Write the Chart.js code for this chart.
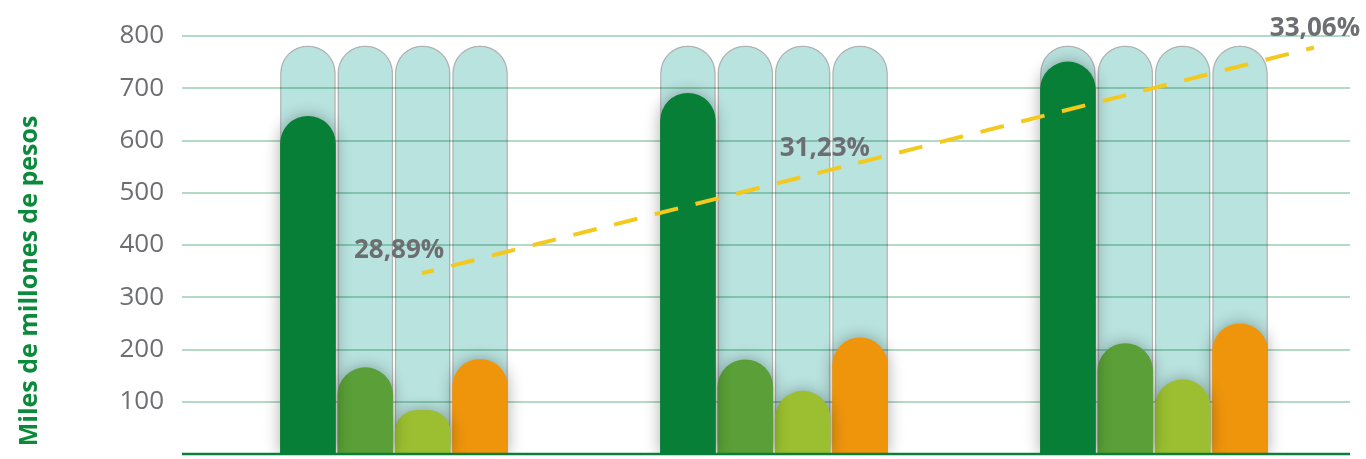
<!DOCTYPE html>
<html>
<head>
<meta charset="utf-8">
<script src="https://cdn.jsdelivr.net/npm/chart.js"></script>
<style>
  html, body { margin: 0; padding: 0; background: #fff; overflow: hidden; }
  canvas { display: block; }
</style>
</head>
<body>
<canvas id="grafico" width="1366" height="459"></canvas>
<script>
const categorias = [0, 1, 2];
const serie1 = [647, 691, 751];
const serie2 = [166, 181, 212];
const serie3 = [84, 121, 143];
const serie4 = [182, 223, 250];
const fondo = [782, 782, 782];
const tendenciaX = [0.074, 1.247, 2.421];
const tendencia = [346, 562, 778];
const porcentajes = ["28,89%", "31,23%", "33,06%"];
const ticksY = [100, 200, 300, 400, 500, 600, 700, 800];

const colores = ["#077f37", "#5a9f37", "#9bbf30", "#ef950c"];
const series = [serie1, serie2, serie3, serie4];
const pilas = ["a", "b", "c", "d"];

// desplazamiento de cada etiqueta de porcentaje respecto a su punto
const offsetsEtiquetas = [[-23, -23], [-43, -12], [1, -19]];

const datasets = [];
series.forEach((s, i) => {
  datasets.push({
    type: "bar",
    label: "Serie " + (i + 1),
    data: s.map((v, j) => ({ x: categorias[j], y: v })),
    stack: pilas[i],
    order: 1,
    backgroundColor: colores[i],
    borderRadius: 100,
    borderSkipped: "start",
    _capa: "frente",
  });
});
series.forEach((s, i) => {
  datasets.push({
    type: "bar",
    label: "Fondo " + (i + 1),
    data: fondo.map((v, j) => ({ x: categorias[j], y: v })),
    stack: pilas[i],
    order: 2,
    backgroundColor: "#b9e3df",
    borderColor: "rgba(140,155,155,0.5)",
    borderWidth: 1.5,
    borderRadius: 100,
    borderSkipped: "start",
    _capa: "fondo",
  });
});
datasets.push({
  type: "line",
  label: "Porcentaje",
  data: tendencia.map((v, i) => ({ x: tendenciaX[i], y: v })),
  order: 0,
  borderColor: "#f3c91d",
  borderWidth: 4,
  borderDash: [24, 18],
  borderDashOffset: 12,
  pointRadius: 0,
  fill: false,
  tension: 0,
  clip: false,
});

const GRID_X0 = 182;
const GRID_X1 = 1350;

const capasPlugin = {
  id: "capas",
  beforeDatasetsDraw(chart) {
    chart._gridHecho = false;
  },
  beforeDatasetDraw(chart, args) {
    const ds = chart.data.datasets[args.index];
    const ctx = chart.ctx;
    if (ds._capa === "frente" && !chart._gridHecho) {
      // rejilla entre las barras de fondo y las de frente
      const y = chart.scales.y;
      ctx.save();
      ctx.globalCompositeOperation = "multiply";
      ctx.strokeStyle = "rgb(178,218,198)";
      ctx.lineWidth = 2;
      ticksY.forEach((t) => {
        const py = Math.round(y.getPixelForValue(t));
        ctx.beginPath();
        ctx.moveTo(GRID_X0, py);
        ctx.lineTo(GRID_X1, py);
        ctx.stroke();
      });
      ctx.restore();
      chart._gridHecho = true;
    }
    ctx.save();
    if (ds._capa === "frente") {
      ctx.shadowColor = "rgba(0,0,0,0.32)";
      ctx.shadowBlur = 16;
    } else if (ds._capa === "fondo") {
      ctx.shadowColor = "rgba(0,0,0,0.28)";
      ctx.shadowBlur = 9;
    }
  },
  afterDatasetDraw(chart) {
    chart.ctx.restore();
  },
  afterDatasetsDraw(chart) {
    const ctx = chart.ctx;
    const y = chart.scales.y;
    // linea base
    ctx.save();
    ctx.strokeStyle = "#0b7f3a";
    ctx.lineWidth = 2.5;
    const py = y.getPixelForValue(0);
    ctx.beginPath();
    ctx.moveTo(GRID_X0, py);
    ctx.lineTo(GRID_X1, py);
    ctx.stroke();
    ctx.restore();

    // etiquetas de porcentaje
    const meta = chart.getDatasetMeta(chart.data.datasets.length - 1);
    ctx.save();
    ctx.font = "bold 26px 'Open Sans'";
    ctx.fillStyle = "#6d6e71";
    ctx.textAlign = "center";
    ctx.textBaseline = "middle";
    meta.data.forEach((pt, i) => {
      const o = offsetsEtiquetas[i];
      ctx.fillText(porcentajes[i], pt.x + o[0], pt.y + o[1]);
    });
    ctx.restore();

    // titulo del eje
    ctx.save();
    ctx.translate(30, 281);
    ctx.rotate(-Math.PI / 2);
    ctx.font = "bold 25px 'Open Sans'";
    ctx.fillStyle = "#0b8a3b";
    ctx.textAlign = "center";
    ctx.textBaseline = "middle";
    ctx.fillText("Miles de millones de pesos", 0, 0);
    ctx.restore();
  },
};

new Chart(document.getElementById("grafico"), {
  data: {
    datasets: datasets,
  },
  options: {
    responsive: false,
    animation: false,
    layout: {
      padding: { top: 36, right: 22, bottom: 5, left: 0 },
    },
    datasets: {
      bar: {
        categoryPercentage: 0.604,
        barPercentage: 0.97,
      },
    },
    plugins: {
      legend: { display: false },
      tooltip: { enabled: false },
    },
    scales: {
      x: {
        type: "linear",
        display: false,
        stacked: true,
        offset: false,
        min: -0.5,
        max: 2.5,
        afterBuildTicks(scale) {
          scale.ticks = categorias.map((v) => ({ value: v }));
        },
      },
      y: {
        stacked: false,
        min: 0,
        max: 800,
        afterFit(scale) {
          scale.width = 204;
          scale.paddingTop = 0;
          scale.paddingBottom = 0;
        },
        grid: { display: false, drawTicks: false },
        border: { display: false },
        ticks: {
          stepSize: 100,
          padding: 40,
          color: "#6d6e71",
          font: { family: "'Open Sans'", size: 26 },
          callback: (v) => (ticksY.includes(v) ? v : ""),
        },
      },
    },
  },
  plugins: [capasPlugin],
});
</script>
</body>
</html>
